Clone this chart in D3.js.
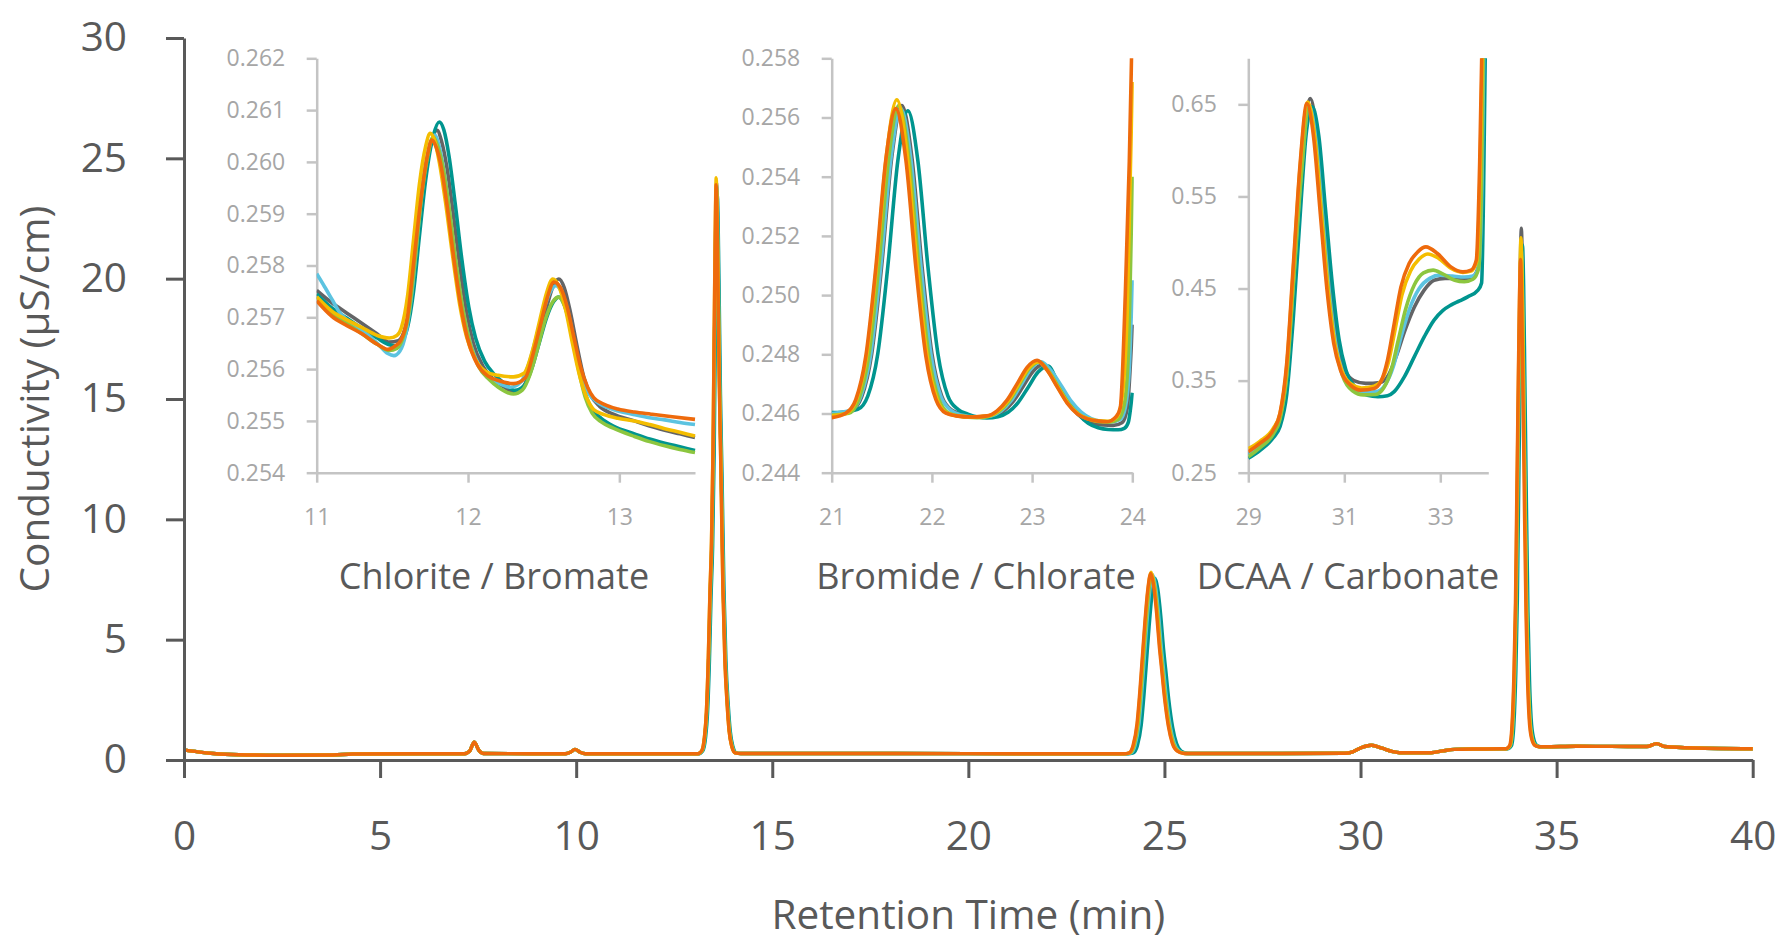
<!DOCTYPE html>
<html>
<head>
<meta charset="utf-8">
<script src="https://cdn.jsdelivr.net/npm/d3@7"></script>
<style>
  html, body { margin: 0; padding: 0; background: #ffffff; }
  svg { display: block; font-family: "Open Sans", "Noto Sans", sans-serif; }
</style>
</head>
<body>
<svg id="chart" width="1780" height="942"></svg>
<script>
// ---------------------------------------------------------------------------
// Axis ranges and tick labels
// ---------------------------------------------------------------------------
const mainTimeRange = [0, 40];
const mainTimeTicks = [0, 5, 10, 15, 20, 25, 30, 35, 40];
const mainConductivityRange = [0, 30];
const mainConductivityTicks = [0, 5, 10, 15, 20, 25, 30];

const chloriteTimeRange = [11, 13.5];
const chloriteTimeTicks = [11, 12, 13];
const chloriteConductivityRange = [0.254, 0.262];
const chloriteConductivityTicks = [0.254, 0.255, 0.256, 0.257, 0.258, 0.259, 0.260, 0.261, 0.262];

const bromideTimeRange = [21, 24];
const bromideTimeTicks = [21, 22, 23, 24];
const bromideConductivityRange = [0.244, 0.258];
const bromideConductivityTicks = [0.244, 0.246, 0.248, 0.250, 0.252, 0.254, 0.256, 0.258];

const dcaaTimeRange = [29, 34];
const dcaaTimeTicks = [29, 31, 33];
const dcaaConductivityRange = [0.25, 0.70];
const dcaaConductivityTicks = [0.25, 0.35, 0.45, 0.55, 0.65];

// ---------------------------------------------------------------------------
// Full chromatogram, [time (min), conductivity (µS/cm)]
// Baseline shared by all six injections, plus each injection's three large peaks
// ---------------------------------------------------------------------------
const mainBaseline = [
  [0, 0.42], [0.35, 0.34], [0.75, 0.27], [1.4, 0.22], [2.5, 0.20], [3.8, 0.21], [4.3, 0.25],
  [6, 0.26], [7.15, 0.26], [7.28, 0.36], [7.4, 0.74], [7.52, 0.40], [7.64, 0.27],
  [9.72, 0.26], [9.85, 0.32], [9.97, 0.44], [10.1, 0.32], [10.24, 0.26], [12, 0.26], [13.0, 0.26],
  [14.2, 0.27], [18, 0.27], [22, 0.26], [23.8, 0.26],
  [25.7, 0.27], [28, 0.27], [29.6, 0.28], [29.8, 0.34], [30.0, 0.50], [30.28, 0.61], [30.55, 0.49],
  [30.8, 0.36], [31.0, 0.30], [31.8, 0.30], [32.1, 0.38], [32.4, 0.44], [33.0, 0.46], [33.6, 0.47],
  [34.7, 0.55], [35.5, 0.57], [37.3, 0.56], [37.55, 0.68], [37.75, 0.56], [38.5, 0.50], [40, 0.47]
];

const mainPeaksGrey = [
  [13.11, 0.26], [13.21, 0.38], [13.28, 0.95], [13.33, 2.0], [13.38, 4.3], [13.42, 6.9], [13.46, 9.0], [13.5, 13.05], [13.54, 19.6], [13.58, 24.0], [13.62, 20.6], [13.66, 15.6], [13.7, 12.05], [13.75, 7.2], [13.8, 4.2], [13.86, 2.3], [13.91, 1.2], [13.98, 0.55], [14.06, 0.3],
  [24.01, 0.26], [24.16, 0.3], [24.26, 0.59], [24.36, 1.47], [24.43, 2.75], [24.48, 3.82], [24.56, 5.59], [24.63, 6.86], [24.71, 7.6], [24.78, 7.16], [24.86, 5.98], [24.93, 4.61], [24.98, 3.82], [25.06, 2.55], [25.16, 1.37], [25.26, 0.69], [25.38, 0.37], [25.56, 0.27],
  [33.72, 0.47], [33.82, 0.6], [33.88, 1.5], [33.93, 3.7], [33.97, 6.9], [34.0, 11.05], [34.04, 16.45], [34.07, 20.2], [34.1, 22.1], [34.13, 20.4], [34.16, 16.45], [34.2, 11.05], [34.24, 6.4], [34.28, 3.4], [34.32, 1.8], [34.38, 0.95], [34.47, 0.6], [34.57, 0.55]
];
const mainPeaksTeal = [
  [13.13, 0.26], [13.23, 0.38], [13.3, 0.93], [13.35, 1.95], [13.4, 4.2], [13.44, 6.8], [13.48, 8.85], [13.52, 12.8], [13.56, 19.2], [13.6, 23.5], [13.64, 20.2], [13.68, 15.2], [13.72, 11.8], [13.77, 7.1], [13.82, 4.1], [13.88, 2.25], [13.93, 1.2], [14.0, 0.55], [14.08, 0.3],
  [24.06, 0.26], [24.21, 0.3], [24.31, 0.59], [24.41, 1.46], [24.48, 2.73], [24.53, 3.8], [24.61, 5.55], [24.68, 6.82], [24.76, 7.55], [24.83, 7.11], [24.91, 5.94], [24.98, 4.58], [25.03, 3.8], [25.11, 2.53], [25.21, 1.36], [25.31, 0.68], [25.43, 0.37], [25.61, 0.27],
  [33.75, 0.47], [33.85, 0.6], [33.91, 1.45], [33.96, 3.6], [34.0, 6.7], [34.03, 10.7], [34.07, 15.95], [34.1, 19.55], [34.13, 21.4], [34.16, 19.75], [34.19, 15.95], [34.23, 10.7], [34.27, 6.15], [34.31, 3.3], [34.35, 1.75], [34.41, 0.93], [34.5, 0.6], [34.6, 0.55]
];
const mainPeaksLightBlue = [
  [13.11, 0.26], [13.21, 0.38], [13.28, 0.95], [13.33, 2.0], [13.38, 4.3], [13.42, 6.9], [13.46, 9.0], [13.5, 13.0], [13.54, 19.5], [13.58, 23.9], [13.62, 20.5], [13.66, 15.5], [13.7, 12.0], [13.75, 7.2], [13.8, 4.2], [13.86, 2.3], [13.91, 1.2], [13.98, 0.55], [14.06, 0.3],
  [24.0, 0.26], [24.15, 0.3], [24.25, 0.6], [24.35, 1.49], [24.42, 2.78], [24.47, 3.87], [24.55, 5.66], [24.62, 6.95], [24.7, 7.7], [24.77, 7.25], [24.85, 6.06], [24.92, 4.67], [24.97, 3.87], [25.05, 2.58], [25.15, 1.39], [25.25, 0.7], [25.37, 0.38], [25.55, 0.27],
  [33.72, 0.47], [33.82, 0.6], [33.88, 1.43], [33.93, 3.57], [33.97, 6.62], [34.0, 10.6], [34.04, 15.8], [34.07, 19.35], [34.1, 21.2], [34.13, 19.55], [34.16, 15.8], [34.2, 10.6], [34.24, 6.1], [34.28, 3.25], [34.32, 1.73], [34.38, 0.9], [34.47, 0.6], [34.57, 0.55]
];
const mainPeaksGreen = [
  [13.11, 0.26], [13.21, 0.38], [13.28, 0.95], [13.33, 2.0], [13.38, 4.3], [13.42, 6.85], [13.46, 8.95], [13.5, 12.9], [13.54, 19.4], [13.58, 23.8], [13.62, 20.4], [13.66, 15.4], [13.7, 11.95], [13.75, 7.15], [13.8, 4.2], [13.86, 2.3], [13.91, 1.2], [13.98, 0.55], [14.06, 0.3],
  [23.98, 0.26], [24.13, 0.3], [24.23, 0.6], [24.33, 1.49], [24.4, 2.78], [24.45, 3.87], [24.53, 5.66], [24.6, 6.95], [24.68, 7.7], [24.75, 7.25], [24.83, 6.06], [24.9, 4.67], [24.95, 3.87], [25.03, 2.58], [25.13, 1.39], [25.23, 0.7], [25.35, 0.38], [25.53, 0.27],
  [33.72, 0.47], [33.82, 0.6], [33.88, 1.4], [33.93, 3.55], [33.97, 6.55], [34.0, 10.5], [34.04, 15.65], [34.07, 19.2], [34.1, 21.0], [34.13, 19.4], [34.16, 15.65], [34.2, 10.5], [34.24, 6.05], [34.28, 3.25], [34.32, 1.7], [34.38, 0.9], [34.47, 0.6], [34.57, 0.55]
];
const mainPeaksYellow = [
  [13.1, 0.26], [13.2, 0.38], [13.27, 0.96], [13.32, 2.0], [13.37, 4.35], [13.41, 7.0], [13.45, 9.1], [13.49, 13.2], [13.53, 19.7], [13.57, 24.2], [13.61, 20.8], [13.65, 15.7], [13.69, 12.2], [13.74, 7.3], [13.79, 4.25], [13.85, 2.3], [13.9, 1.2], [13.97, 0.55], [14.05, 0.3],
  [23.96, 0.26], [24.11, 0.3], [24.21, 0.6], [24.31, 1.5], [24.38, 2.82], [24.43, 3.92], [24.51, 5.74], [24.58, 7.05], [24.66, 7.8], [24.73, 7.35], [24.81, 6.14], [24.88, 4.73], [24.93, 3.92], [25.01, 2.62], [25.11, 1.4], [25.21, 0.7], [25.33, 0.38], [25.51, 0.27],
  [33.71, 0.47], [33.81, 0.6], [33.87, 1.45], [33.92, 3.65], [33.96, 6.8], [33.99, 10.85], [34.03, 16.2], [34.06, 19.8], [34.09, 21.7], [34.12, 20.0], [34.15, 16.2], [34.19, 10.85], [34.23, 6.25], [34.27, 3.35], [34.31, 1.75], [34.37, 0.9], [34.46, 0.6], [34.56, 0.55]
];
const mainPeaksOrange = [
  [13.1, 0.26], [13.2, 0.38], [13.27, 0.95], [13.32, 2.0], [13.37, 4.3], [13.41, 6.9], [13.45, 9.0], [13.49, 13.0], [13.53, 19.5], [13.57, 23.9], [13.61, 20.5], [13.65, 15.5], [13.69, 12.0], [13.74, 7.2], [13.79, 4.2], [13.85, 2.3], [13.9, 1.2], [13.97, 0.55], [14.05, 0.3],
  [23.95, 0.26], [24.1, 0.3], [24.2, 0.6], [24.3, 1.5], [24.37, 2.8], [24.42, 3.9], [24.5, 5.7], [24.57, 7.0], [24.65, 7.75], [24.72, 7.3], [24.8, 6.1], [24.87, 4.7], [24.92, 3.9], [25.0, 2.6], [25.1, 1.4], [25.2, 0.7], [25.32, 0.38], [25.5, 0.27],
  [33.7, 0.47], [33.8, 0.6], [33.86, 1.4], [33.91, 3.5], [33.95, 6.5], [33.98, 10.4], [34.02, 15.5], [34.05, 19.0], [34.08, 20.8], [34.11, 19.2], [34.14, 15.5], [34.18, 10.4], [34.22, 6.0], [34.26, 3.2], [34.3, 1.7], [34.36, 0.9], [34.45, 0.6], [34.55, 0.55]
];

// ---------------------------------------------------------------------------
// Chlorite / Bromate window (11 – 13.5 min)
// ---------------------------------------------------------------------------
const chloriteGrey = [
  [11.0, 0.25752], [11.1, 0.25728], [11.2, 0.25708], [11.3, 0.25688], [11.4, 0.25668], [11.48, 0.25652], [11.54, 0.25655], [11.58, 0.25675], [11.62, 0.25730], [11.66, 0.25840], [11.70, 0.25950], [11.755, 0.26035], [11.795, 0.26061], [11.825, 0.26040], [11.86, 0.25990], [11.9, 0.25905], [11.945, 0.25800], [11.99, 0.25710], [12.035, 0.25650], [12.1, 0.25605], [12.17, 0.25580], [12.24, 0.25565], [12.31, 0.25555], [12.37, 0.25568], [12.42, 0.25605], [12.47, 0.25660], [12.52, 0.25720], [12.565, 0.25762], [12.60, 0.25774], [12.635, 0.25758], [12.675, 0.25712], [12.72, 0.25645], [12.765, 0.25585], [12.81, 0.25550], [12.87, 0.25528], [12.96, 0.25513], [13.1, 0.25500], [13.2, 0.25490], [13.3, 0.25482], [13.4, 0.25475], [13.5, 0.25468]
];
const chloriteTeal = [
  [11.0, 0.25745], [11.1, 0.25718], [11.2, 0.25698], [11.3, 0.25678], [11.4, 0.25660], [11.47, 0.25648], [11.52, 0.25645], [11.56, 0.25652], [11.6, 0.25680], [11.64, 0.25750], [11.68, 0.25860], [11.72, 0.25965], [11.77, 0.26050], [11.81, 0.26077], [11.84, 0.26062], [11.875, 0.26010], [11.915, 0.25920], [11.96, 0.25810], [12.005, 0.25720], [12.05, 0.25660], [12.11, 0.25615], [12.18, 0.25588], [12.25, 0.25570], [12.31, 0.25559], [12.37, 0.25568], [12.42, 0.25600], [12.47, 0.25650], [12.52, 0.25700], [12.565, 0.25730], [12.60, 0.25739], [12.64, 0.25722], [12.685, 0.25672], [12.73, 0.25605], [12.775, 0.25552], [12.82, 0.25522], [12.88, 0.25505], [12.96, 0.25490], [13.1, 0.25475], [13.2, 0.25465], [13.3, 0.25457], [13.4, 0.25450], [13.5, 0.25443]
];
const chloriteLightBlue = [
  [11.0, 0.25784], [11.05, 0.25760], [11.1, 0.25735], [11.15, 0.25710], [11.2, 0.25695], [11.3, 0.25675], [11.4, 0.25650], [11.47, 0.25630], [11.51, 0.25626], [11.55, 0.25635], [11.59, 0.25670], [11.63, 0.25750], [11.67, 0.25870], [11.71, 0.25975], [11.75, 0.26035], [11.78, 0.26052], [11.81, 0.26030], [11.845, 0.25975], [11.885, 0.25885], [11.93, 0.25780], [11.975, 0.25700], [12.02, 0.25645], [12.08, 0.25603], [12.15, 0.25582], [12.22, 0.25570], [12.28, 0.25565], [12.35, 0.25575], [12.40, 0.25608], [12.45, 0.25660], [12.50, 0.25715], [12.545, 0.25750], [12.58, 0.25761], [12.62, 0.25748], [12.665, 0.25705], [12.71, 0.25640], [12.755, 0.25585], [12.80, 0.25552], [12.86, 0.25535], [12.96, 0.25522], [13.1, 0.25512], [13.2, 0.25506], [13.3, 0.25502], [13.4, 0.25497], [13.5, 0.25493]
];
const chloriteGreen = [
  [11.0, 0.25740], [11.1, 0.25708], [11.2, 0.25688], [11.3, 0.25668], [11.4, 0.25648], [11.48, 0.25636], [11.53, 0.25640], [11.57, 0.25660], [11.61, 0.25710], [11.65, 0.25810], [11.69, 0.25925], [11.735, 0.26012], [11.77, 0.26048], [11.80, 0.26030], [11.835, 0.25990], [11.875, 0.25912], [11.92, 0.25808], [11.965, 0.25718], [12.01, 0.25655], [12.07, 0.25605], [12.14, 0.25580], [12.2, 0.25565], [12.3, 0.25552], [12.36, 0.25560], [12.41, 0.25590], [12.46, 0.25640], [12.51, 0.25695], [12.56, 0.25730], [12.60, 0.25739], [12.64, 0.25720], [12.685, 0.25670], [12.73, 0.25600], [12.775, 0.25545], [12.82, 0.25515], [12.88, 0.25498], [12.96, 0.25486], [13.1, 0.25470], [13.2, 0.25460], [13.3, 0.25452], [13.4, 0.25445], [13.5, 0.25439]
];
const chloriteYellow = [
  [11.0, 0.25739], [11.1, 0.25712], [11.2, 0.25695], [11.3, 0.25680], [11.4, 0.25665], [11.48, 0.25660], [11.53, 0.25665], [11.56, 0.25680], [11.6, 0.25740], [11.64, 0.25850], [11.68, 0.25960], [11.72, 0.26030], [11.75, 0.26055], [11.78, 0.26040], [11.81, 0.26000], [11.85, 0.25925], [11.9, 0.25815], [11.945, 0.25725], [11.99, 0.25663], [12.05, 0.25618], [12.12, 0.25595], [12.2, 0.25588], [12.3, 0.25585], [12.37, 0.25592], [12.43, 0.25640], [12.475, 0.25695], [12.52, 0.25748], [12.56, 0.25774], [12.6, 0.25760], [12.645, 0.25715], [12.69, 0.25650], [12.735, 0.25590], [12.78, 0.25548], [12.83, 0.25522], [12.9, 0.25512], [12.99, 0.25505], [13.1, 0.25500], [13.2, 0.25493], [13.3, 0.25485], [13.4, 0.25478], [13.5, 0.25471]
];
const chloriteOrange = [
  [11.0, 0.25732], [11.1, 0.25702], [11.2, 0.25684], [11.3, 0.25668], [11.4, 0.25648], [11.47, 0.25638], [11.52, 0.25645], [11.555, 0.25655], [11.6, 0.25700], [11.64, 0.25803], [11.685, 0.25919], [11.73, 0.26010], [11.76, 0.26042], [11.79, 0.26028], [11.82, 0.25995], [11.86, 0.25919], [11.905, 0.25816], [11.95, 0.25726], [11.995, 0.25661], [12.06, 0.25610], [12.13, 0.25587], [12.2, 0.25578], [12.3, 0.25572], [12.38, 0.25584], [12.435, 0.25635], [12.48, 0.25687], [12.525, 0.25739], [12.567, 0.25768], [12.61, 0.25758], [12.656, 0.25719], [12.70, 0.25661], [12.745, 0.25603], [12.79, 0.25565], [12.83, 0.25545], [12.9, 0.25532], [12.99, 0.25523], [13.1, 0.25517], [13.21, 0.25513], [13.35, 0.25508], [13.5, 0.25503]
];

// ---------------------------------------------------------------------------
// Bromide / Chlorate window (21 – 24 min)
// ---------------------------------------------------------------------------
const bromideGrey = [
  [21.0, 0.24598], [21.2, 0.24611], [21.3, 0.24657], [21.4, 0.24803], [21.5, 0.25103], [21.6, 0.25467], [21.7, 0.2564], [21.8, 0.25467], [21.9, 0.25103], [22.0, 0.24803], [22.1, 0.24657], [22.2, 0.24611], [22.3, 0.24598], [22.45, 0.24588],
  [22.61, 0.24592], [22.71, 0.24607], [22.81, 0.2464], [22.91, 0.24691], [23.01, 0.24743], [23.11, 0.24765], [23.21, 0.24718], [23.31, 0.24666], [23.41, 0.24615], [23.51, 0.24582], [23.61, 0.24567], [23.71, 0.24561], [23.81, 0.2456], [23.9, 0.2457], [23.95, 0.2462], [24.0, 0.2490]
];
const bromideTeal = [
  [21.0, 0.24603], [21.1, 0.24604], [21.26, 0.24614], [21.36, 0.24659], [21.46, 0.24802], [21.56, 0.25097], [21.66, 0.25454], [21.76, 0.25623], [21.86, 0.25454], [21.96, 0.25097], [22.06, 0.24802], [22.16, 0.24659], [22.26, 0.24614], [22.36, 0.24598], [22.55, 0.24585],
  [22.66, 0.24589], [22.76, 0.24604], [22.86, 0.24637], [22.96, 0.24688], [23.06, 0.2474], [23.16, 0.2476], [23.26, 0.24703], [23.36, 0.2465], [23.46, 0.246], [23.56, 0.24567], [23.66, 0.24552], [23.76, 0.24546], [23.86, 0.24545], [23.92, 0.2455], [23.96, 0.2457], [24.0, 0.2467]
];
const bromideLightBlue = [
  [21.0, 0.24600], [21.19, 0.24611], [21.29, 0.24657], [21.39, 0.24801], [21.49, 0.25099], [21.59, 0.25459], [21.69, 0.2563], [21.79, 0.25459], [21.89, 0.25099], [21.99, 0.24801], [22.09, 0.24657], [22.19, 0.24611], [22.29, 0.24595], [22.45, 0.24588],
  [22.59, 0.24592], [22.69, 0.24608], [22.79, 0.24643], [22.89, 0.24697], [22.99, 0.24752], [23.09, 0.24775], [23.19, 0.24745], [23.29, 0.24695], [23.39, 0.24642], [23.49, 0.24605], [23.59, 0.24583], [23.69, 0.24574], [23.79, 0.24572], [23.88, 0.2458], [23.93, 0.2462], [23.97, 0.2475], [24.0, 0.2505]
];
const bromideGreen = [
  [21.0, 0.24595], [21.17, 0.24601], [21.27, 0.24648], [21.37, 0.24795], [21.47, 0.25098], [21.57, 0.25466], [21.67, 0.2564], [21.77, 0.25466], [21.87, 0.25098], [21.97, 0.24795], [22.07, 0.24648], [22.17, 0.24601], [22.27, 0.24592], [22.45, 0.24586],
  [22.57, 0.24591], [22.67, 0.24607], [22.77, 0.24642], [22.87, 0.24696], [22.97, 0.24751], [23.07, 0.24774], [23.17, 0.24741], [23.27, 0.24686], [23.37, 0.24632], [23.47, 0.24597], [23.57, 0.24580], [23.67, 0.24572], [23.77, 0.24571], [23.86, 0.2458], [23.92, 0.2463], [23.96, 0.2480], [24.0, 0.2540]
];
const bromideYellow = [
  [21.0, 0.24592], [21.15, 0.24601], [21.25, 0.24649], [21.35, 0.24799], [21.45, 0.25108], [21.55, 0.25482], [21.65, 0.2566], [21.75, 0.25482], [21.85, 0.25108], [21.95, 0.24799], [22.05, 0.24649], [22.15, 0.24601], [22.25, 0.24592], [22.4, 0.24588],
  [22.56, 0.24592], [22.66, 0.24608], [22.76, 0.24643], [22.86, 0.24697], [22.96, 0.24752], [23.06, 0.24775], [23.16, 0.24742], [23.26, 0.24687], [23.36, 0.24633], [23.46, 0.24598], [23.56, 0.24582], [23.66, 0.24575], [23.76, 0.24574], [23.85, 0.2459], [23.9, 0.2466], [23.95, 0.2495], [24.0, 0.2572]
];
const bromideOrange = [
  [21.0, 0.24586], [21.14, 0.24601], [21.24, 0.24647], [21.34, 0.24793], [21.44, 0.25093], [21.54, 0.25457], [21.64, 0.2563], [21.74, 0.25457], [21.84, 0.25093], [21.94, 0.24793], [22.04, 0.24647], [22.14, 0.24601], [22.24, 0.24592], [22.4, 0.24588],
  [22.55, 0.24592], [22.65, 0.24609], [22.75, 0.24645], [22.85, 0.247], [22.95, 0.24756], [23.05, 0.2478], [23.15, 0.24746], [23.25, 0.2469], [23.35, 0.24635], [23.45, 0.24599], [23.55, 0.24582], [23.65, 0.24575], [23.75, 0.24572], [23.84, 0.2459], [23.88, 0.2462], [23.93, 0.2500], [23.97, 0.2545], [24.0, 0.2592]
];

// ---------------------------------------------------------------------------
// DCAA / Carbonate window (29 – 34 min)
// ---------------------------------------------------------------------------
const dcaaGrey = [
  [29.0, 0.2700], [29.24, 0.2790], [29.52, 0.2935], [29.66, 0.3090], [29.8, 0.3540], [29.94, 0.4530], [30.1, 0.5720], [30.29, 0.6562], [30.43, 0.6180], [30.57, 0.5330], [30.71, 0.4500], [30.85, 0.3920], [30.99, 0.3640], [31.2, 0.3500], [31.45, 0.3470], [31.75, 0.3480], [31.92, 0.3560], [32.08, 0.3760], [32.26, 0.4040], [32.46, 0.4300], [32.66, 0.4480], [32.87, 0.4590], [33.1, 0.4610], [33.3, 0.4609], [33.5, 0.4609], [33.68, 0.4630], [33.8, 0.4750], [33.87, 0.5700], [33.91, 0.7200]
];
const dcaaTeal = [
  [29.0, 0.2656], [29.24, 0.2740], [29.52, 0.2880], [29.66, 0.3000], [29.8, 0.3350], [29.94, 0.4200], [30.1, 0.5450], [30.2, 0.6150], [30.33, 0.6472], [30.47, 0.6150], [30.61, 0.5350], [30.75, 0.4550], [30.89, 0.3950], [31.03, 0.3620], [31.24, 0.3420], [31.48, 0.3340], [31.7, 0.3325], [31.9, 0.3335], [32.04, 0.3380], [32.25, 0.3540], [32.46, 0.3760], [32.67, 0.3980], [32.87, 0.4157], [33.05, 0.4260], [33.22, 0.4320], [33.4, 0.4365], [33.57, 0.4410], [33.78, 0.4480], [33.86, 0.4560], [33.9, 0.5500], [33.94, 0.7200]
];
const dcaaLightBlue = [
  [29.0, 0.2700], [29.24, 0.2790], [29.52, 0.2940], [29.66, 0.3100], [29.8, 0.3570], [29.94, 0.4580], [30.1, 0.5730], [30.27, 0.6480], [30.41, 0.6100], [30.55, 0.5270], [30.69, 0.4450], [30.83, 0.3870], [30.97, 0.3580], [31.18, 0.3410], [31.42, 0.3370], [31.7, 0.3385], [31.86, 0.3460], [32.02, 0.3650], [32.18, 0.3970], [32.36, 0.4280], [32.56, 0.4500], [32.78, 0.4610], [33.0, 0.4645], [33.25, 0.4635], [33.5, 0.4625], [33.68, 0.4635], [33.8, 0.4740], [33.87, 0.5700], [33.91, 0.7200]
];
const dcaaGreen = [
  [29.0, 0.2674], [29.24, 0.2770], [29.52, 0.2920], [29.66, 0.3080], [29.8, 0.3550], [29.94, 0.4550], [30.1, 0.5700], [30.26, 0.6454], [30.4, 0.6080], [30.54, 0.5250], [30.68, 0.4430], [30.82, 0.3850], [30.96, 0.3560], [31.17, 0.3390], [31.4, 0.3345], [31.65, 0.3350], [31.82, 0.3420], [31.97, 0.3600], [32.12, 0.3930], [32.28, 0.4280], [32.46, 0.4540], [32.65, 0.4670], [32.85, 0.4700], [33.05, 0.4660], [33.3, 0.4590], [33.5, 0.4573], [33.68, 0.4600], [33.8, 0.4720], [33.86, 0.5700], [33.9, 0.7200]
];
const dcaaYellow = [
  [29.0, 0.2760], [29.24, 0.2840], [29.52, 0.2980], [29.66, 0.3140], [29.8, 0.3650], [29.94, 0.4720], [30.08, 0.5820], [30.24, 0.6526], [30.38, 0.6150], [30.52, 0.5300], [30.66, 0.4470], [30.8, 0.3900], [30.94, 0.3620], [31.15, 0.3460], [31.36, 0.3420], [31.62, 0.3440], [31.78, 0.3510], [31.92, 0.3700], [32.06, 0.4060], [32.2, 0.4430], [32.38, 0.4690], [32.56, 0.4820], [32.74, 0.4875], [32.96, 0.4830], [33.22, 0.4720], [33.47, 0.4675], [33.64, 0.4690], [33.76, 0.4800], [33.83, 0.5800], [33.88, 0.7200]
];
const dcaaOrange = [
  [29.0, 0.2728], [29.24, 0.2818], [29.52, 0.2963], [29.66, 0.3144], [29.8, 0.3686], [29.94, 0.4772], [30.08, 0.5857], [30.22, 0.6508], [30.36, 0.6146], [30.5, 0.5314], [30.64, 0.4482], [30.78, 0.3903], [30.92, 0.3614], [31.13, 0.3451], [31.34, 0.3397], [31.62, 0.3415], [31.76, 0.3487], [31.9, 0.3723], [32.04, 0.4120], [32.18, 0.4518], [32.35, 0.4771], [32.53, 0.4898], [32.7, 0.4952], [32.94, 0.4880], [33.22, 0.4735], [33.47, 0.4681], [33.64, 0.4699], [33.75, 0.4808], [33.82, 0.5857], [33.87, 0.7200]
];

// ---------------------------------------------------------------------------
// Trace colours, drawn in this order (last on top)
// ---------------------------------------------------------------------------
const traceKeys = ["grey", "teal", "lightBlue", "green", "yellow", "orange"];
const traceColors = ["#636466", "#00958f", "#5cc3e0", "#8cc63f", "#f4bd00", "#ee6a0c"];

// ---------------------------------------------------------------------------
// Drawing
// ---------------------------------------------------------------------------
const svg = d3.select("#chart");
const mainInk = "#595959";
const insetInk = "#a6a6a6";
const insetAxisInk = "#c4c4c4";
const mainFontSize = 40.5;

const mainPeaks = {
  grey: mainPeaksGrey, teal: mainPeaksTeal, lightBlue: mainPeaksLightBlue,
  green: mainPeaksGreen, yellow: mainPeaksYellow, orange: mainPeaksOrange
};
const mainTrace = key => mainBaseline.concat(mainPeaks[key]).sort((a, b) => a[0] - b[0]);

// Main plot frame
const plot = { left: 184, right: 1752.7, top: 38, bottom: 760 };
const x = d3.scaleLinear().domain(mainTimeRange).range([plot.left, plot.right]);
const y = d3.scaleLinear().domain(mainConductivityRange).range([plot.bottom, plot.top]);

function styleAxis(g, ink, width, fontSize, textInk) {
  g.attr("font-family", null).attr("font-size", null);
  g.select(".domain").attr("stroke", ink).attr("stroke-width", width);
  g.selectAll(".tick line").attr("stroke", ink).attr("stroke-width", width);
  g.selectAll(".tick text")
    .attr("fill", textInk)
    .attr("font-size", fontSize)
    .attr("font-family", "'Open Sans', 'Noto Sans', sans-serif");
}

// Traces of the full run
const mainLine = d3.line()
  .x(d => x(d[0]))
  .y(d => y(d[1]))
  .curve(d3.curveMonotoneX);

const mainTraces = svg.append("g").attr("class", "main-traces");
traceKeys.forEach((key, i) => {
  mainTraces.append("path")
    .datum(mainTrace(key))
    .attr("fill", "none")
    .attr("stroke", traceColors[i])
    .attr("stroke-width", 3.4)
    .attr("stroke-linejoin", "round")
    .attr("d", mainLine);
});

// Main axes
const xAxisG = svg.append("g")
  .attr("transform", `translate(0,${plot.bottom})`)
  .call(d3.axisBottom(x).tickValues(mainTimeTicks).tickSize(18).tickSizeOuter(0).tickPadding(43).tickFormat(d3.format("d")));
styleAxis(xAxisG, mainInk, 3, mainFontSize, mainInk);

const yAxisG = svg.append("g")
  .attr("transform", `translate(${plot.left},0)`)
  .call(d3.axisLeft(y).tickValues(mainConductivityTicks).tickSize(18).tickSizeOuter(0).tickPadding(39).tickFormat(d3.format("d")));
styleAxis(yAxisG, mainInk, 3, mainFontSize, mainInk);

svg.append("text")
  .attr("x", (plot.left + plot.right) / 2)
  .attr("y", 929)
  .attr("text-anchor", "middle")
  .attr("font-size", mainFontSize)
  .attr("fill", mainInk)
  .text("Retention Time (min)");

svg.append("text")
  .attr("transform", `translate(49,${(plot.top + plot.bottom) / 2}) rotate(-90)`)
  .attr("text-anchor", "middle")
  .attr("font-size", mainFontSize)
  .attr("fill", mainInk)
  .text("Conductivity (µS/cm)");

// Zoomed windows
const insets = [
  {
    id: "chlorite", title: "Chlorite / Bromate", titleX: 494,
    timeRange: chloriteTimeRange, timeTicks: chloriteTimeTicks,
    condRange: chloriteConductivityRange, condTicks: chloriteConductivityTicks, condFormat: ".3f",
    box: { left: 316.7, right: 695, top: 58.3, bottom: 472.7 },
    traces: [chloriteGrey, chloriteTeal, chloriteLightBlue, chloriteGreen, chloriteYellow, chloriteOrange]
  },
  {
    id: "bromide", title: "Bromide / Chlorate", titleX: 976,
    timeRange: bromideTimeRange, timeTicks: bromideTimeTicks,
    condRange: bromideConductivityRange, condTicks: bromideConductivityTicks, condFormat: ".3f",
    box: { left: 831.7, right: 1132.3, top: 58.3, bottom: 472.7 },
    traces: [bromideGrey, bromideTeal, bromideLightBlue, bromideGreen, bromideYellow, bromideOrange]
  },
  {
    id: "dcaa", title: "DCAA / Carbonate", titleX: 1348,
    timeRange: dcaaTimeRange, timeTicks: dcaaTimeTicks,
    condRange: dcaaConductivityRange, condTicks: dcaaConductivityTicks, condFormat: ".2f",
    box: { left: 1248.3, right: 1488.3, top: 58.3, bottom: 472.7 },
    traces: [dcaaGrey, dcaaTeal, dcaaLightBlue, dcaaGreen, dcaaYellow, dcaaOrange]
  }
];

const defs = svg.append("defs");

insets.forEach(inset => {
  const b = inset.box;
  const ix = d3.scaleLinear().domain(inset.timeRange).range([b.left, b.right]);
  const iy = d3.scaleLinear().domain(inset.condRange).range([b.bottom, b.top]);
  const g = svg.append("g").attr("class", `inset-${inset.id}`);

  defs.append("clipPath").attr("id", `clip-${inset.id}`)
    .append("rect")
    .attr("x", b.left)
    .attr("y", b.top)
    .attr("width", b.right - b.left + 1.5)
    .attr("height", b.bottom - b.top);

  const xa = g.append("g")
    .attr("transform", `translate(0,${b.bottom})`)
    .call(d3.axisBottom(ix).tickValues(inset.timeTicks).tickSize(10).tickSizeOuter(0).tickPadding(26).tickFormat(d3.format("d")));
  styleAxis(xa, insetAxisInk, 2.5, 23, insetInk);

  const ya = g.append("g")
    .attr("transform", `translate(${b.left},0)`)
    .call(d3.axisLeft(iy).tickValues(inset.condTicks).tickSize(10).tickSizeOuter(0).tickPadding(21.5).tickFormat(d3.format(inset.condFormat)));
  styleAxis(ya, insetAxisInk, 2.5, 23, insetInk);

  const line = d3.line()
    .x(d => ix(d[0]))
    .y(d => iy(d[1]))
    .curve(d3.curveMonotoneX);

  const traces = g.append("g").attr("clip-path", `url(#clip-${inset.id})`);
  inset.traces.forEach((data, i) => {
    traces.append("path")
      .datum(data)
      .attr("fill", "none")
      .attr("stroke", traceColors[i])
      .attr("stroke-width", 3.6)
      .attr("stroke-linejoin", "round")
      .attr("d", line);
  });

  g.append("text")
    .attr("x", inset.titleX)
    .attr("y", 589)
    .attr("text-anchor", "middle")
    .attr("font-size", 36)
    .attr("fill", mainInk)
    .text(inset.title);
});
</script>
</body>
</html>
